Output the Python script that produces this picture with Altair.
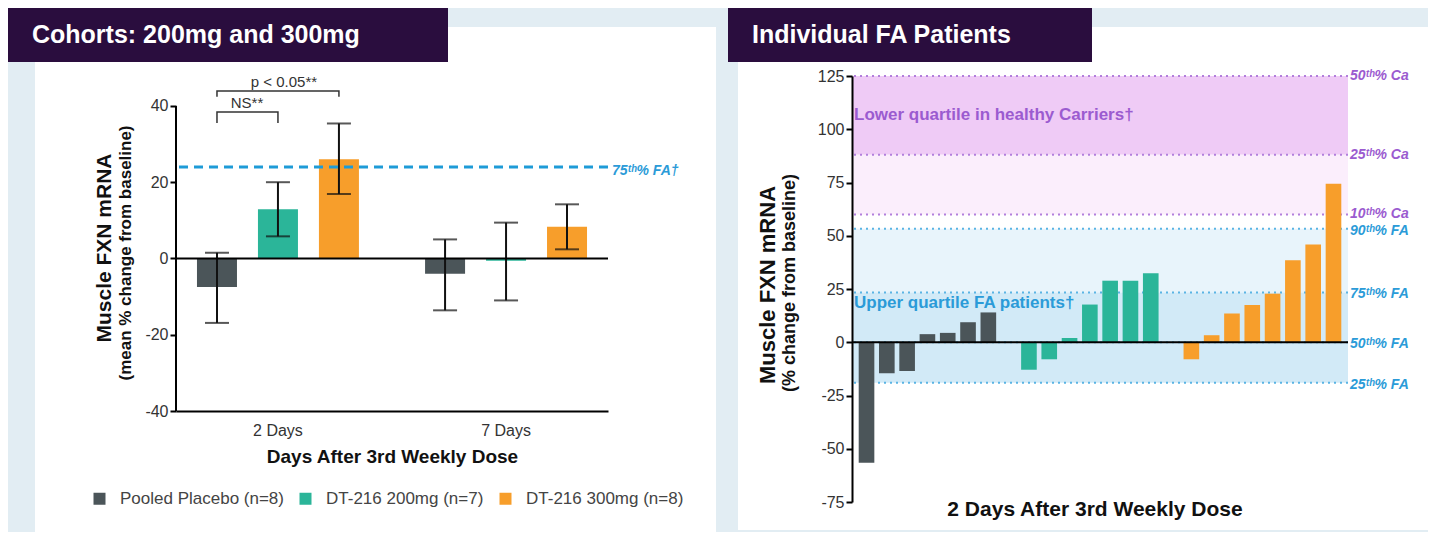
import altair as alt
import pandas as pd

FONT = "Liberation Sans"

# ---------------- Left panel data ----------------
groups = ["2 Days", "7 Days"]
series = ["Pooled Placebo (n=8)", "DT-216 200mg (n=7)", "DT-216 300mg (n=8)"]
mean_2d = [-7.5, 12.9, 26.0]
lo_2d = [-16.9, 5.8, 16.9]
hi_2d = [1.5, 20.0, 35.4]
mean_7d = [-4.0, -0.6, 8.3]
lo_7d = [-13.6, -11.0, 2.4]
hi_7d = [5.0, 9.4, 14.2]
fa75_level = [24.0]

bracket_names = ["NS**", "p < 0.05**"]
bracket_left = [series[0], series[0]]
bracket_right = [series[1], series[2]]
bracket_top = [38.4, 43.9]
bracket_foot = [35.5, 42.4]

# ---------------- Right panel data ----------------
placebo_vals = [-56.6, -14.6, -13.5, 3.8, 4.4, 9.4, 14.0]
d200_vals = [-12.9, -8.0, 2.0, 17.7, 28.9, 28.9, 32.4]
d300_vals = [-8.0, 3.3, 13.5, 17.5, 22.8, 38.5, 45.9, 74.4]

ref_labels = ["50ᵗʰ% Ca", "25ᵗʰ% Ca", "10ᵗʰ% Ca", "90ᵗʰ% FA", "75ᵗʰ% FA", "50ᵗʰ% FA", "25ᵗʰ% FA"]
ref_values = [125, 88, 60, 53.3, 23.4, 0, -19]
ref_kind = ["Ca", "Ca", "Ca", "FA", "FA", "FA", "FA"]

band_names = ["Ca lower quartile", "Ca 10-25", "FA 75-90", "FA upper quartile"]
band_lo = [88, 60, 23.4, -19]
band_hi = [125, 88, 53.3, 23.4]

# ---------------- styles ----------------
SERIES_COLORS = ["#4b5559", "#2bb599", "#f79e2b"]
BAND_COLORS = ["#efcbf6", "#fbeefc", "#e8f4fb", "#d2eaf7"]
CA_COLOR = "#9b5bd0"
FA_COLOR = "#2b9bd8"
BANNER = "#2a0d3e"
BG = "#e2edf3"
HYPHEN_LABELS = "replace(datum.label, '\u2212', '-')"

one = pd.DataFrame({"k": [0]})


def rect(x, x2, y, y2, color):
    return alt.Chart(one).mark_rect(color=color).encode(
        x=alt.value(x), x2=alt.value(x2), y=alt.value(y), y2=alt.value(y2))


def label(x, y, text, **kw):
    return alt.Chart(one).mark_text(**kw).encode(
        x=alt.value(x), y=alt.value(y), text=alt.value(text))


# ================= LEFT =================
rows = []
for g, m, lo, hi in zip(groups, [mean_2d, mean_7d], [lo_2d, lo_7d], [hi_2d, hi_7d]):
    for s, a, b, c in zip(series, m, lo, hi):
        rows.append({"group": g, "series": s, "mean": a, "lo": b, "hi": c})
df_bars = pd.DataFrame(rows)

brows = []
for name, l, r, top, foot in zip(bracket_names, bracket_left, bracket_right, bracket_top, bracket_foot):
    for k, (s, v) in enumerate([(l, foot), (l, top), (r, top), (r, foot)]):
        brows.append({"bracket": name, "group": groups[0], "series": s, "val": v, "k": k})
df_br = pd.DataFrame(brows)

df_ns = pd.DataFrame({"group": [groups[0]], "series": [bracket_left[0]], "val": [bracket_top[0]], "t": [bracket_names[0]]})
df_p = pd.DataFrame({"group": [groups[0]], "series": [series[1]], "val": [bracket_top[1]], "t": [bracket_names[1]]})
df_fa = pd.DataFrame({"level": fa75_level})
df_zero = pd.DataFrame({"z": [0.0], "a": [-40.0], "b": [40.0]})

yL_scale = alt.Scale(domain=[-40, 47.85], nice=False, zero=False)
yL_axis = alt.Axis(values=[-40, -20, 0, 20, 40], domain=False, grid=False, tickColor="black",
                   tickWidth=2, tickSize=6, labelFontSize=16, labelColor="#333", labelPadding=2,
                   labelExpr=HYPHEN_LABELS, zindex=2)
xL_scale = alt.Scale(domain=groups, paddingInner=0.106, paddingOuter=0)
xL_axis = alt.Axis(labelAngle=0, domain=True, domainColor="black", domainWidth=2, ticks=False,
                   labelFontSize=16, labelColor="#333", labelPadding=11,
                   titleFontSize=19, titleFontWeight="bold", titleColor="#111", titlePadding=9, zindex=2)
oL_scale = alt.Scale(domain=series, paddingInner=0.344, paddingOuter=0.344)


def xL():
    return alt.X("group:N", scale=xL_scale, axis=xL_axis, title="Days After 3rd Weekly Dose")


def oL():
    return alt.XOffset("series:N", scale=oL_scale)


def yL(f):
    return alt.Y(f, scale=yL_scale, axis=yL_axis, title=None)


bg = rect(-168, 1252, -68, 456, BG)
panelL = rect(-141, 540, -49, 456, "white")
bannerL = rect(-168, 272, -68, -14, BANNER)
bannerL_t = label(-144, -41, "Cohorts: 200mg and 300mg", align="left", baseline="middle",
                  color="white", fontSize=25, fontWeight="bold")

bars = alt.Chart(df_bars).mark_bar().encode(
    x=xL(), xOffset=oL(), y=yL("mean:Q"),
    color=alt.Color("series:N", scale=alt.Scale(domain=series, range=SERIES_COLORS),
                    legend=alt.Legend(orient="none", legendX=-85, legendY=414, direction="horizontal",
                                      columns=3, title=None, symbolType="square", symbolSize=144,
                                      symbolStrokeWidth=0, labelFontSize=17, labelColor="#444",
                                      labelOffset=12, labelLimit=400, columnPadding=13, zindex=2)),
)
err = alt.Chart(df_bars).mark_rule(color="#111", strokeWidth=2).encode(
    x=xL(), xOffset=oL(), y=yL("lo:Q"), y2="hi:Q")
cap_lo = alt.Chart(df_bars).mark_tick(color="#111", size=24, thickness=2).encode(
    x=xL(), xOffset=oL(), y=yL("lo:Q"))
cap_hi = alt.Chart(df_bars).mark_tick(color="#111", size=24, thickness=2).encode(
    x=xL(), xOffset=oL(), y=yL("hi:Q"))
zeroL = alt.Chart(df_zero).mark_rule(color="black", strokeWidth=2).encode(y=yL("z:Q"))
yaxis_line = alt.Chart(df_zero).mark_rule(color="black", strokeWidth=2).encode(
    x=alt.value(0), y=yL("a:Q"), y2="b:Q")
fa_line = alt.Chart(df_fa).mark_rule(color="#1e9bd7", strokeWidth=3, strokeDash=[9, 6]).encode(y=yL("level:Q"))
fa_text = alt.Chart(df_fa).mark_text(align="left", baseline="middle", fontStyle="italic",
                                     fontWeight="bold", fontSize=14, color=FA_COLOR, dy=4).encode(
    x=alt.value(436), y=yL("level:Q"), text=alt.value("75ᵗʰ% FA†"))
brackets = alt.Chart(df_br).mark_line(color="#333", strokeWidth=1.5).encode(
    x=xL(), xOffset=oL(), y=yL("val:Q"), detail="bracket:N", order="k:Q")
ns_t = alt.Chart(df_ns).mark_text(baseline="bottom", dy=-1, dx=30, fontSize=15, color="#333").encode(
    x=xL(), xOffset=oL(), y=yL("val:Q"), text="t:N")
p_t = alt.Chart(df_p).mark_text(baseline="bottom", dy=-1, dx=6, fontSize=15, color="#333").encode(
    x=xL(), xOffset=oL(), y=yL("val:Q"), text="t:N")
ytL1 = label(-71, 172, "Muscle FXN mRNA", angle=270, fontSize=21, fontWeight="bold",
             color="#111", baseline="middle", align="center")
ytL2 = label(-50, 177, "(mean % change from baseline)", angle=270, fontSize=17, fontWeight="bold",
             color="#111", baseline="middle", align="center")

left = alt.layer(bg, panelL, bannerL, bannerL_t, bars, err, cap_lo, cap_hi, zeroL, yaxis_line,
                 fa_line, fa_text, brackets, ns_t, p_t, ytL1, ytL2).properties(width=432, height=335)

# ================= RIGHT =================
slots = ([f"P{i}" for i in range(1, 8)] + ["gap1"] + [f"A{i}" for i in range(1, 8)] + ["gap2"]
         + [f"B{i}" for i in range(1, 9)])
prow = []
for i, v in enumerate(placebo_vals):
    prow.append({"slot": f"P{i+1}", "series": series[0], "value": v})
for i, v in enumerate(d200_vals):
    prow.append({"slot": f"A{i+1}", "series": series[1], "value": v})
for i, v in enumerate(d300_vals):
    prow.append({"slot": f"B{i+1}", "series": series[2], "value": v})
df_pat = pd.DataFrame(prow)
df_ref = pd.DataFrame({"label": ref_labels, "value": ref_values, "kind": ref_kind})
df_band = pd.DataFrame({"band": band_names, "lo": band_lo, "hi": band_hi})
df_zero2 = pd.DataFrame({"z": [0.0]})

yR_scale = alt.Scale(domain=[-75, 125], nice=False, zero=False)
yR_axis = alt.Axis(values=[-75, -50, -25, 0, 25, 50, 75, 100, 125], domain=True, domainColor="black",
                   domainWidth=2, grid=False, tickColor="black", tickWidth=2, tickSize=6,
                   labelFontSize=16, labelColor="#333", labelPadding=2, labelExpr=HYPHEN_LABELS, zindex=2)


def yR(f):
    return alt.Y(f, scale=yR_scale, axis=yR_axis, title=None)


panelR = rect(-114, 576, -49, 454, "white")
bannerR = rect(-124, 240, -68, -14, BANNER)
bannerR_t = label(-100, -41, "Individual FA Patients", align="left", baseline="middle",
                  color="white", fontSize=25, fontWeight="bold")

bands = alt.Chart(df_band).mark_rect().encode(
    y=yR("lo:Q"), y2="hi:Q",
    fill=alt.Fill("band:N", scale=alt.Scale(domain=band_names, range=BAND_COLORS), legend=None))
ref_rules = alt.Chart(df_ref).mark_rule(strokeWidth=2, strokeDash=[2, 4]).encode(
    y=yR("value:Q"),
    stroke=alt.Stroke("kind:N", scale=alt.Scale(domain=["Ca", "FA"], range=["#b27fdc", "#5ab4e4"]), legend=None))
ref_ca = alt.Chart(df_ref).transform_filter(alt.datum.kind == "Ca").mark_text(
    align="left", baseline="middle", fontStyle="italic", fontWeight="bold", fontSize=14, color=CA_COLOR).encode(
    x=alt.value(498), y=yR("value:Q"), text="label:N")
ref_fa = alt.Chart(df_ref).transform_filter(alt.datum.kind == "FA").mark_text(
    align="left", baseline="middle", fontStyle="italic", fontWeight="bold", fontSize=14, color=FA_COLOR, dy=2).encode(
    x=alt.value(498), y=yR("value:Q"), text="label:N")
pbars = alt.Chart(df_pat).mark_bar().encode(
    x=alt.X("slot:N", scale=alt.Scale(domain=slots, paddingInner=0.23, paddingOuter=0.33), axis=None),
    y=yR("value:Q"),
    color=alt.Color("series:N", scale=alt.Scale(domain=series, range=SERIES_COLORS), legend=None))
zeroR = alt.Chart(df_zero2).mark_rule(color="black", strokeWidth=2).encode(y=yR("z:Q"))
txt_ca = label(2, 39, "Lower quartile in healthy Carriers†", align="left", baseline="middle",
               fontSize=17, fontWeight="bold", color=CA_COLOR)
txt_fa = label(2, 227, "Upper quartile FA  patients†", align="left", baseline="middle",
               fontSize=17, fontWeight="bold", color=FA_COLOR)
ytR1 = label(-84, 209, "Muscle FXN mRNA", angle=270, fontSize=22, fontWeight="bold",
             color="#111", baseline="middle", align="center")
ytR2 = label(-62, 207, "(% change from baseline)", angle=270, fontSize=18, fontWeight="bold",
             color="#111", baseline="middle", align="center")
xtR = label(243, 434, "2 Days After 3rd Weekly Dose", align="center", baseline="middle",
            fontSize=21, fontWeight="bold", color="#111")

right = alt.layer(panelR, bannerR, bannerR_t, bands, ref_rules, ref_ca, ref_fa, pbars, zeroR,
                  txt_ca, txt_fa, ytR1, ytR2, xtR).properties(width=496, height=426)

chart = (alt.hconcat(left, right, spacing=244, bounds="flush")
         .resolve_scale(color="independent")
         .properties(padding=0)
         .configure(font=FONT)
         .configure_view(strokeWidth=0))

chart.save("out.html", embed_options={"renderer": "svg", "actions": False})
